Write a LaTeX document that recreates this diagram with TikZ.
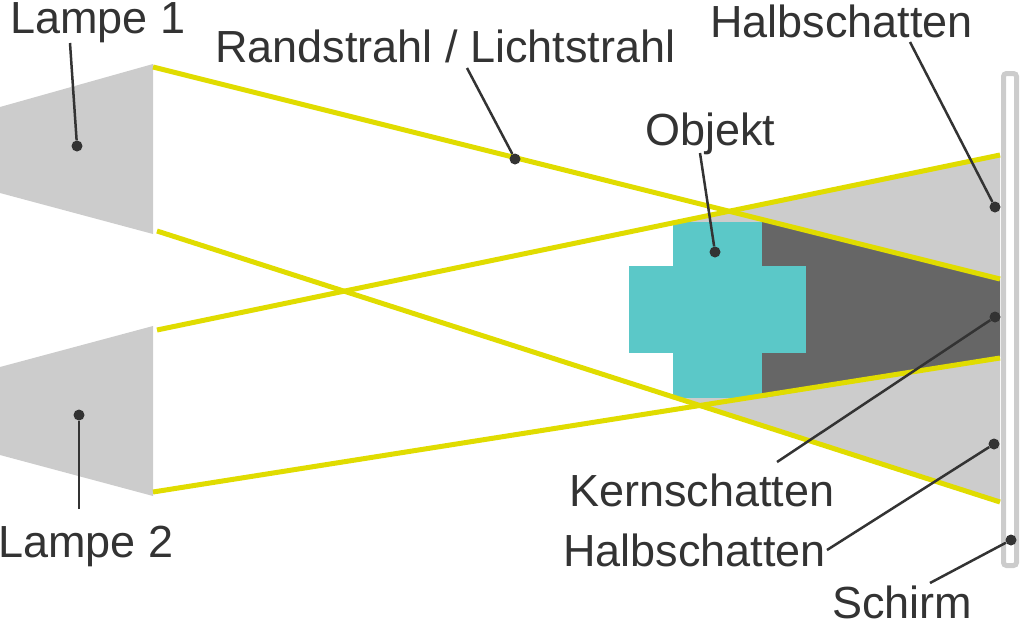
\documentclass[tikz,border=0pt]{standalone}
\usepackage{fontspec}
\setmainfont{Liberation Sans}
\definecolor{raycolor}{RGB}{224, 220, 0}
\definecolor{halfcolor}{RGB}{204, 204, 204}
\definecolor{corecolor}{RGB}{102, 102, 102}
\definecolor{objcolor}{RGB}{91, 200, 200}
\definecolor{textcolor}{RGB}{51, 51, 51}

\begin{document}
\begin{tikzpicture}[x=1pt, y=-1pt,
    ray/.style={raycolor, line width=5pt},
    pin/.style={circle, fill=textcolor, inner sep=0pt, minimum size=11pt},
    lead/.style={textcolor, line width=2.5pt},
    caption/.style={anchor=base west, inner sep=0pt, text=textcolor, font=\fontsize{45}{52}\selectfont}
    ]
    \useasboundingbox (0,0) rectangle (1020,622);

    % Shadows
    \fill[halfcolor] (673,222) -- (1000,155) -- (1000,279) -- (762,222) -- cycle;
    \fill[halfcolor] (673,398) -- (1000,502) -- (1000,357) -- (762,398) -- cycle;
    \fill[corecolor] (762,220) -- (1000,279) -- (1000,357) -- (762,398) -- cycle;

    % Object
    \fill[objcolor] (673,222) rectangle (762,398);
    \fill[objcolor] (629,266) rectangle (806,353);

    % Lamps
    \fill[halfcolor] (0,107) -- (153,64) -- (153,234) -- (0,193) -- cycle;
    \fill[halfcolor] (0,367) -- (153,326) -- (153,496) -- (0,455) -- cycle;

    % Rays
    \draw[ray] (153,67) -- (1000,279);
    \draw[ray] (157,231) -- (1000,502);
    \draw[ray] (157,330) -- (1000,155);
    \draw[ray] (153,492) -- (1000,358);

    % Screen
    \draw[halfcolor, line width=5pt, rounded corners=3pt] (1003.5,73.5) rectangle (1016.5,565.5);

    % Pins and leaders
    \foreach \name/\px/\py/\fx/\fy in {
        lampA/77/146/70/43,
        lampB/79/415/79/509,
        ray/515/159/467/68,
        obj/715/252/700/153,
        halfA/995/207/910/42,
        core/995/317/777/462,
        halfB/994/444/827/550,
        screen/1011/540/930/583
    }{
        \node[pin] (p\name) at (\px,\py) {};
        \coordinate (l\name) at (\fx,\fy);
        \draw[lead] (l\name) -- (p\name);
    }

    % Labels
    \node[caption] (tlampA) at (10,33) {Lampe 1};
    \node[caption] (tlampB) at (-2,557) {Lampe 2};
    \node[caption] (tray) at (215,62) {Randstrahl / Lichtstrahl};
    \node[caption] (tobj) at (645,145) {Objekt};
    \node[caption] (thalfA) at (710,37) {Halbschatten};
    \node[caption] (tcore) at (569,506) {Kernschatten};
    \node[caption] (thalfB) at (563,566) {Halbschatten};
    \node[caption] (tscreen) at (832,618) {Schirm};
\end{tikzpicture}
\end{document}
